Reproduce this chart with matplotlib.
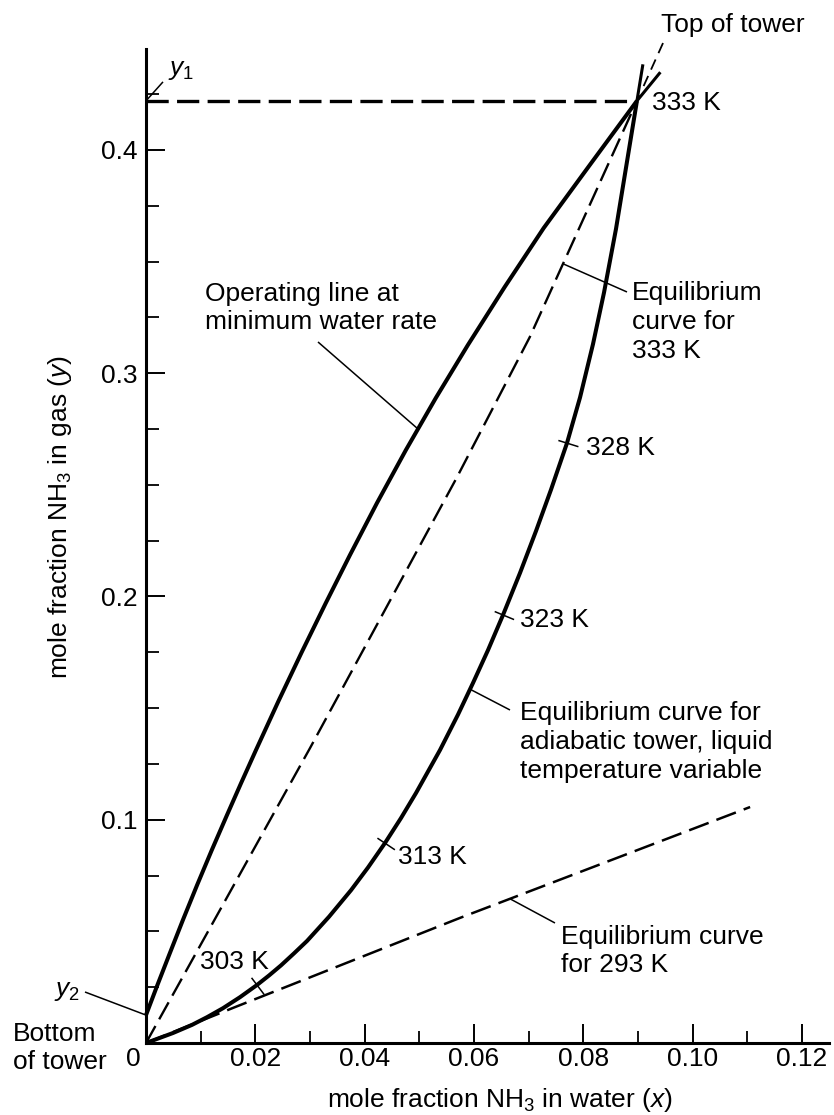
import numpy as np
import matplotlib
matplotlib.use("Agg")
import matplotlib.pyplot as plt
from matplotlib.ticker import MultipleLocator
from matplotlib.transforms import ScaledTranslation

plt.rcParams["font.family"] = ["Liberation Sans", "DejaVu Sans"]
plt.rcParams["mathtext.fontset"] = "custom"
plt.rcParams["mathtext.rm"] = "Liberation Sans"
plt.rcParams["mathtext.it"] = "Liberation Sans:italic"
plt.rcParams["mathtext.bf"] = "Liberation Sans:bold"
plt.rcParams["lines.scale_dashes"] = False
plt.rcParams["lines.solid_capstyle"] = "butt"

# ---------------- data ----------------
# gas composition at the tower ends
y1 = 0.422
y2 = 0.0125
x1 = 0.0898

# operating line at minimum water rate
op_x = [0.0, 0.00209, 0.00423, 0.00675, 0.00935, 0.01204, 0.01482, 0.01740,
        0.02012, 0.02424, 0.02850, 0.03289, 0.03731, 0.04225, 0.04754,
        0.05301, 0.05888, 0.06561, 0.07275, 0.08118, 0.0898]
op_y = [0.0125, 0.02598, 0.03942, 0.05510, 0.07077, 0.08645, 0.10213,
        0.11646, 0.13124, 0.15319, 0.17514, 0.19709, 0.21859, 0.24188,
        0.26562, 0.28891, 0.31265, 0.33863, 0.36506, 0.39328, 0.422]

# equilibrium curve for the adiabatic tower (liquid temperature variable)
adi_x = [0.0, 0.00494, 0.00841, 0.01116, 0.01408, 0.01719, 0.02030, 0.02250,
         0.02469, 0.02707, 0.02945, 0.03347, 0.03750, 0.04061, 0.04372,
         0.04664, 0.04939, 0.05378, 0.05707, 0.05981, 0.06256, 0.06530,
         0.06841, 0.07134, 0.07408, 0.07701, 0.07939, 0.08176, 0.08378,
         0.08597, 0.0898]
adi_y = [0.0, 0.00448, 0.00811, 0.01156, 0.01559, 0.02052, 0.02598, 0.03024,
         0.03476, 0.04014, 0.04569, 0.05653, 0.06844, 0.07861, 0.08959,
         0.10074, 0.11198, 0.13124, 0.14710, 0.16125, 0.17599, 0.19171,
         0.21053, 0.22934, 0.24784, 0.26876, 0.28914, 0.31301, 0.33617,
         0.36466, 0.422]

# isothermal equilibrium curves
eq333_x = [0.0, 0.0300, 0.0569, 0.0702, 0.0898]
eq333_y = [0.0, 0.1321, 0.2535, 0.3162, 0.422]
eq293_x = [0.0, 0.0159, 0.0574, 0.1105]
eq293_y = [0.0, 0.0157, 0.0560, 0.1057]

# liquid temperatures marked along the adiabatic curve
temp_labels = ["303 K", "313 K", "323 K", "328 K"]
temp_x = [0.0203, 0.0437, 0.0653, 0.0770]

x_ticks = [0.0, 0.02, 0.04, 0.06, 0.08, 0.10, 0.12]
x_ticklabels = ["0", "0.02", "0.04", "0.06", "0.08", "0.10", "0.12"]
y_ticks = [0.1, 0.2, 0.3, 0.4]
y_ticklabels = ["0.1", "0.2", "0.3", "0.4"]

# ---------------- figure ----------------
W, H, DPI = 834, 1115, 100
fig = plt.figure(figsize=(W / DPI, H / DPI), dpi=DPI)
ax = fig.add_axes([146 / W, 1 - 1043 / H, (829 - 146) / W, (1043 - 49.5) / H])
ax.set_xlim(0, 0.12493)
ax.set_ylim(0, 0.445)

FS = 19
LS = 1.25
THICK = 2.9
K = "black"

for s in ("top", "right"):
    ax.spines[s].set_visible(False)
for s in ("left", "bottom"):
    ax.spines[s].set_linewidth(2.2)

ax.set_xticks(x_ticks)
ax.set_xticklabels(x_ticklabels)
ax.xaxis.set_minor_locator(MultipleLocator(0.01))
ax.set_yticks(y_ticks)
ax.set_yticklabels(y_ticklabels)
ax.yaxis.set_minor_locator(MultipleLocator(0.025))
ax.tick_params(which="major", direction="in", length=14, width=1.4,
               labelsize=FS)
ax.tick_params(which="minor", direction="in", length=9, width=1.3)
ax.tick_params(axis="x", which="major", pad=3)
ax.tick_params(axis="y", which="major", pad=6)
zero_lbl = ax.get_xticklabels()[0]
zero_lbl.set_transform(zero_lbl.get_transform()
                       + ScaledTranslation(-13 / DPI, 0, fig.dpi_scale_trans))

# curves
ax.plot(op_x, op_y, color=K, lw=THICK, solid_joinstyle="round", clip_on=False)
ax.plot(adi_x, adi_y, color=K, lw=THICK, solid_joinstyle="round", clip_on=False)
ax.plot(eq333_x, eq333_y, color=K, lw=1.7, dashes=(14, 5.5))
ax.plot(eq293_x, eq293_y, color=K, lw=1.8, dashes=(15, 6))
ax.plot([0, x1], [y1, y1], color=K, lw=2.4, dashes=(16, 6))


def to_disp(x, y):
    return ax.transData.transform((x, y))


def to_data(p):
    return ax.transData.inverted().transform(p)


def thin(xa, ya, xb, yb, lw=1.1, **kw):
    ax.plot([xa, xb], [ya, yb], color=K, lw=lw, clip_on=False, **kw)


def cross_tick(xs, ys, xq, back=9.0, fwd=12.0):
    d = 0.001
    p0 = to_disp(xq - d, np.interp(xq - d, xs, ys))
    p1 = to_disp(xq + d, np.interp(xq + d, xs, ys))
    t = (p1 - p0) / np.hypot(*(p1 - p0))
    n = np.array([t[1], -t[0]])
    c = to_disp(xq, np.interp(xq, xs, ys))
    a = to_data(c - back * n)
    b = to_data(c + fwd * n)
    thin(a[0], a[1], b[0], b[1])


# temperature marks and labels
label_pos = [(0.00988, 0.03628), (0.04609, 0.08331),
             (0.06841, 0.18947), (0.08048, 0.26652)]
for lab, xq, (tx, ty) in zip(temp_labels, temp_x, label_pos):
    cross_tick(adi_x, adi_y, xq)
    ax.text(tx, ty, lab, fontsize=FS, ha="left", va="center")

ax.text(0.0925, 0.4212, "333 K", fontsize=FS, ha="left", va="center")

# y1 / y2 labels
ax.text(0.00402, 0.4360, "$y_1$", fontsize=FS, ha="left", va="center")
thin(0.00311, 0.4305, 0.0, y1)
ax.text(-0.01207, 0.0233, "$y_2$", fontsize=FS, ha="right", va="center")
thin(-0.01116, 0.02284, 0.0, y2)
ax.text(-0.02433, -0.0022, "Bottom\nof tower", fontsize=FS, ha="left",
        va="center", linespacing=LS)

# top of tower arrow
ax.text(0.10737, 0.4560, "Top of tower", fontsize=FS, ha="center",
        va="center")
tip = to_disp(x1, y1)
start = to_disp(0.09457, 0.4479)
u = (start - tip) / np.hypot(*(start - tip))
near = to_data(tip + 12 * u)
thin(0.09457, 0.4479, near[0], near[1], lw=1.3, dashes=(8, 5))
barbs = []
for ang in (np.radians(15), np.radians(-15)):
    r = np.array([[np.cos(ang), -np.sin(ang)], [np.sin(ang), np.cos(ang)]])
    barbs.append(to_data(tip + 37 * (r @ u)))
ax.plot([barbs[0][0], x1, barbs[1][0]], [barbs[0][1], y1, barbs[1][1]],
        color=K, lw=2.2, clip_on=False, solid_joinstyle="miter")

# operating line label
ax.text(0.01079, 0.3292, "Operating line at\nminimum water rate", fontsize=FS,
        ha="left", va="center", linespacing=LS)
xq = 0.04975
thin(0.03146, 0.3140, xq, np.interp(xq, op_x, op_y))

# 333 K equilibrium label
ax.text(0.08890, 0.32296, "Equilibrium\ncurve for\n333 K", fontsize=FS,
        ha="left", va="center", linespacing=LS)
xq = 0.07628
thin(xq, np.interp(xq, eq333_x, eq333_y), 0.08798, 0.33639)

# adiabatic curve label
ax.text(0.06841, 0.13483,
        "Equilibrium curve for\nadiabatic tower, liquid\ntemperature variable",
        fontsize=FS, ha="left", va="center", linespacing=LS)
xq = 0.05927
thin(xq, np.interp(xq, adi_x, adi_y), 0.06658, 0.14916)

# 293 K equilibrium label
ax.text(0.07591, 0.04121, "Equilibrium curve\nfor 293 K", fontsize=FS,
        ha="left", va="center", linespacing=LS)
xq = 0.06658
thin(xq, np.interp(xq, eq293_x, eq293_y), 0.07481, 0.05375)

# axis titles
fig.text(500 / W, 1 - 1100 / H, "mole fraction NH$_3$ in water ($x$)",
         fontsize=FS, ha="center", va="center")
fig.text(60 / W, 1 - 517 / H, "mole fraction NH$_3$ in gas ($y$)",
         fontsize=FS, ha="center", va="center", rotation=90)

fig.savefig("out.png", dpi=DPI)
